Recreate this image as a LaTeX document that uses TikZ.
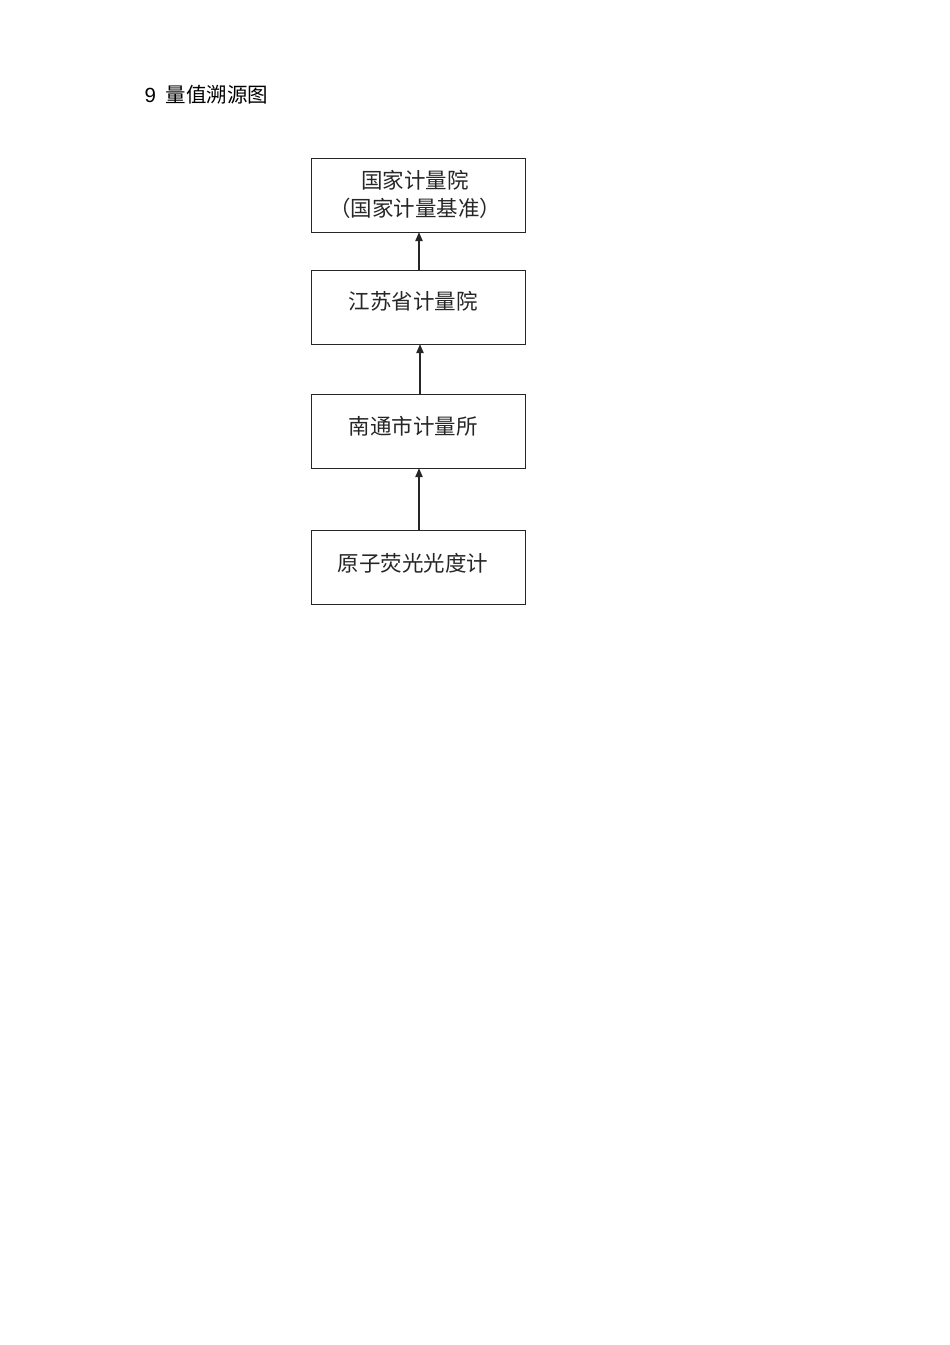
\documentclass[tikz,border=0pt]{standalone}
\usepackage{fontspec}
\newfontfamily\cjk{Noto Sans CJK SC}
\setmainfont{Liberation Sans}
\usetikzlibrary{arrows.meta}
\begin{document}
\begin{tikzpicture}[x=1pt,y=-1pt,
  box/.style={draw=black!85,line width=1.1pt,minimum width=214pt,minimum height=74pt,inner sep=0pt,anchor=north west},
  boxtext/.style={font=\cjk\fontsize{21.5}{28}\selectfont,text=black!85,align=center},
  link/.style={draw=black!85,line width=1.9pt,-{Triangle[length=9pt,width=7pt]}}]
\useasboundingbox (0,0) rectangle (950,1345);
\node[anchor=west,font=\fontsize{20.5}{24}\selectfont] (title) at (141,95) {9\hspace{10pt}{\cjk 量值溯源图}};
\node[box] (b1) at (311,158) {};
\node[box] (b2) at (311,270) {};
\node[box] (b3) at (311,394) {};
\node[box] (b4) at (311,530) {};
\node[boxtext] (t1) at (415,194) {国家计量院\\（国家计量基准）};
\node[boxtext] (t2) at (413,301) {江苏省计量院};
\node[boxtext] (t3) at (413,426) {南通市计量所};
\node[boxtext] (t4) at (413,563) {原子荧光光度计};
\draw[link] (419,270) -- (419,232);
\draw[link] (420,394) -- (420,344);
\draw[link] (419,530) -- (419,468);
\end{tikzpicture}
\end{document}
